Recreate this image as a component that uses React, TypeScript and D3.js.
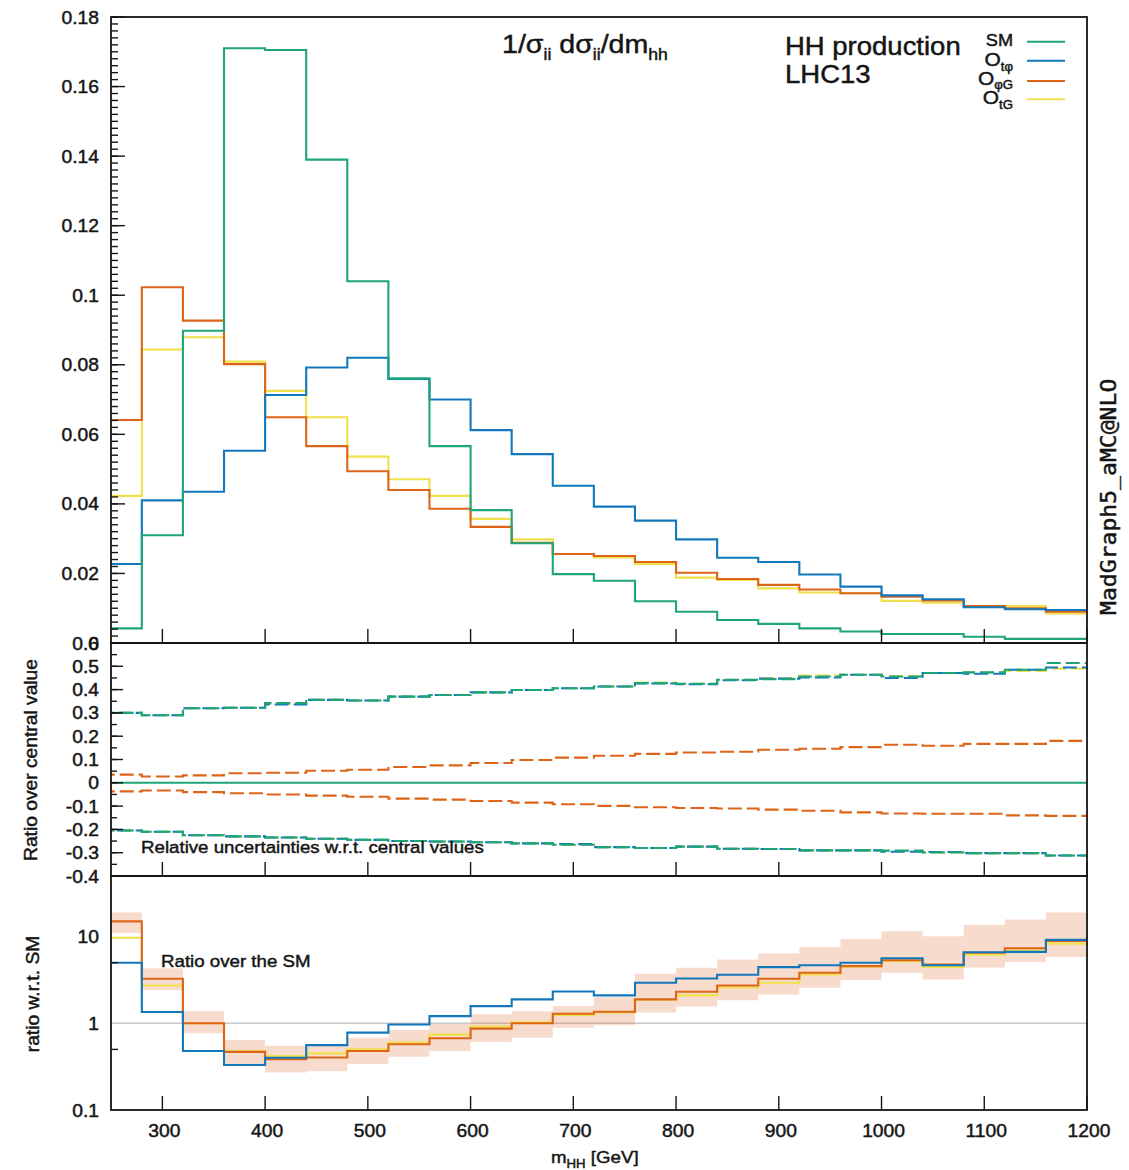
import React from "react";
import * as d3 from "d3";

// ---------------- DATA ----------------
const binEdges = [240, 280, 320, 360, 400, 440, 480, 520, 560, 600, 640, 680, 720, 760, 800, 840, 880, 920, 960, 1000, 1040, 1080, 1120, 1160, 1200];

// normalised distributions 1/sigma dsigma/dm_hh
const smDist = [0.0042, 0.031, 0.0898, 0.171, 0.1705, 0.139, 0.104, 0.0761, 0.0566, 0.0382, 0.0287, 0.0198, 0.0179, 0.012, 0.009, 0.0066, 0.0055, 0.0042, 0.0033, 0.0026, 0.0026, 0.0018, 0.0012, 0.0012];
const otphiDist = [0.0227, 0.041, 0.0435, 0.0553, 0.0713, 0.0792, 0.082, 0.0759, 0.07, 0.0612, 0.0543, 0.0452, 0.0392, 0.0352, 0.0298, 0.0245, 0.0233, 0.0197, 0.0162, 0.0137, 0.0126, 0.0103, 0.0097, 0.0095];
const ophiGDist = [0.0641, 0.1023, 0.0927, 0.0802, 0.0649, 0.0566, 0.0494, 0.044, 0.0386, 0.0334, 0.0288, 0.0256, 0.025, 0.0233, 0.0202, 0.0184, 0.0167, 0.0154, 0.0143, 0.0133, 0.0122, 0.0106, 0.01, 0.009];
const otGDist = [0.0423, 0.0844, 0.0879, 0.0809, 0.0725, 0.0649, 0.0536, 0.0471, 0.0423, 0.0357, 0.0298, 0.0256, 0.0246, 0.0227, 0.0188, 0.0181, 0.0157, 0.0145, 0.0143, 0.0121, 0.0116, 0.0106, 0.0106, 0.0085];

// relative uncertainties
const smUncUp = [0.3, 0.29, 0.32, 0.322, 0.342, 0.356, 0.353, 0.37, 0.377, 0.388, 0.398, 0.406, 0.413, 0.428, 0.425, 0.442, 0.445, 0.456, 0.464, 0.456, 0.471, 0.474, 0.485, 0.514];
const smUncDown = [-0.205, -0.21, -0.225, -0.23, -0.235, -0.24, -0.245, -0.25, -0.252, -0.255, -0.26, -0.266, -0.276, -0.28, -0.274, -0.283, -0.284, -0.29, -0.29, -0.291, -0.299, -0.302, -0.302, -0.312];
const otphiUncUp = [0.3, 0.29, 0.32, 0.322, 0.336, 0.356, 0.353, 0.37, 0.377, 0.388, 0.398, 0.406, 0.413, 0.426, 0.423, 0.44, 0.447, 0.452, 0.464, 0.45, 0.471, 0.468, 0.485, 0.495];
const otphiUncDown = [-0.205, -0.21, -0.225, -0.23, -0.235, -0.24, -0.245, -0.25, -0.252, -0.255, -0.26, -0.263, -0.276, -0.28, -0.274, -0.283, -0.284, -0.29, -0.29, -0.296, -0.297, -0.302, -0.302, -0.312];
const otGUncUp = [0.3, 0.29, 0.32, 0.322, 0.34, 0.356, 0.353, 0.37, 0.377, 0.388, 0.398, 0.406, 0.413, 0.43, 0.425, 0.442, 0.448, 0.46, 0.464, 0.458, 0.471, 0.474, 0.48, 0.49];
const otGUncDown = [-0.205, -0.21, -0.225, -0.23, -0.235, -0.24, -0.245, -0.25, -0.252, -0.255, -0.26, -0.266, -0.276, -0.28, -0.274, -0.283, -0.284, -0.29, -0.29, -0.293, -0.299, -0.302, -0.302, -0.312];
const ophiGUncUp = [0.035, 0.027, 0.032, 0.041, 0.043, 0.052, 0.056, 0.068, 0.075, 0.085, 0.098, 0.108, 0.116, 0.124, 0.13, 0.133, 0.142, 0.146, 0.153, 0.163, 0.159, 0.167, 0.167, 0.18];
const ophiGUncDown = [-0.037, -0.033, -0.04, -0.045, -0.05, -0.055, -0.06, -0.068, -0.072, -0.078, -0.085, -0.092, -0.099, -0.105, -0.108, -0.11, -0.115, -0.12, -0.127, -0.132, -0.133, -0.133, -0.14, -0.142];

// ratios over SM
const otphiRatio = [4.99, 1.35, 0.48, 0.33, 0.4, 0.56, 0.78, 0.97, 1.21, 1.58, 1.89, 2.33, 2.1, 2.94, 3.29, 3.63, 4.44, 4.68, 4.99, 5.63, 4.68, 6.6, 6.67, 9.16];
const ophiGRatio = [15.0, 3.26, 1.0, 0.468, 0.386, 0.403, 0.48, 0.574, 0.673, 0.869, 1.0, 1.29, 1.36, 1.89, 2.31, 2.73, 3.26, 3.83, 4.56, 5.34, 4.77, 6.5, 7.34, 8.93];
const otGRatio = [9.7, 2.73, 1.0, 0.48, 0.42, 0.45, 0.5, 0.6, 0.74, 0.92, 1.03, 1.25, 1.33, 1.87, 2.1, 2.59, 2.94, 3.66, 4.5, 5.2, 4.48, 6.2, 6.9, 8.3];
const ophiGRatioLow = [11.0, 2.41, 0.77, 0.32, 0.27, 0.28, 0.34, 0.41, 0.48, 0.61, 0.68, 0.89, 0.95, 1.33, 1.56, 1.85, 2.15, 2.57, 3.15, 3.83, 3.2, 4.4, 5.1, 5.8];
const ophiGRatioHigh = [19.0, 4.32, 1.38, 0.64, 0.55, 0.55, 0.68, 0.84, 0.98, 1.27, 1.38, 1.58, 2.0, 3.73, 4.37, 5.44, 6.38, 7.6, 9.4, 11.5, 10.1, 13.7, 15.7, 19.0];

const xTicks = [300, 400, 500, 600, 700, 800, 900, 1000, 1100, 1200];
const topYTicks = [0, 0.02, 0.04, 0.06, 0.08, 0.1, 0.12, 0.14, 0.16, 0.18];
const topYTickLabels = ["0", "0.02", "0.04", "0.06", "0.08", "0.1", "0.12", "0.14", "0.16", "0.18"];
const midYTicks = [-0.4, -0.3, -0.2, -0.1, 0, 0.1, 0.2, 0.3, 0.4, 0.5, 0.6];
const midYTickLabels = ["-0.4", "-0.3", "-0.2", "-0.1", "0", "0.1", "0.2", "0.3", "0.4", "0.5", "0.6"];
const botYTicks = [0.1, 1, 10];
const botYTickLabels = ["0.1", "1", "10"];
const botMinorTicks = [0.5, 5];

// ---------------- STYLE ----------------
const GREEN = "#1ea57a";
const BLUE = "#1378bb";
const ORANGE = "#dc651a";
const YELLOW = "#f1e04c";
const BAND = "rgba(225,120,60,0.26)";
const INK = "#151515";
const FONT = "'Liberation Sans', Arial, Helvetica, sans-serif";
const SX = 1.1;
const TSTROKE = 0.45;

const X0 = 111, X1 = 1087;
const T0 = 17, T1 = 643, M1 = 876, B1 = 1110;

const x = d3.scaleLinear().domain([250, 1200]).range([X0, X1]);
const yTop = d3.scaleLinear().domain([0, 0.18]).range([T1, T0]);
const yMid = d3.scaleLinear().domain([-0.4, 0.6]).range([M1, T1]);
const yBot = d3.scaleLog().domain([0.1, 50]).range([B1, M1]);

function stepPts(values: number[]) {
  const pts: [number, number][] = values.map((v, i) => [binEdges[i], v]);
  pts.push([binEdges[values.length], values[values.length - 1]]);
  return pts;
}
function stepPath(values: number[], ys: any) {
  return d3.line<[number, number]>().x(d => x(d[0])).y(d => ys(d[1])).curve(d3.curveStepAfter)(stepPts(values)) || "";
}
function bandPath(lo: number[], hi: number[], ys: any) {
  const pts = lo.map((v, i) => ({ e: binEdges[i], lo: v, hi: hi[i] }));
  pts.push({ e: binEdges[lo.length], lo: lo[lo.length - 1], hi: hi[hi.length - 1] });
  return d3.area<any>().x(d => x(d.e)).y0(d => ys(d.lo)).y1(d => ys(d.hi)).curve(d3.curveStepAfter)(pts) || "";
}

function Txt(props: any) {
  const { x: px, y: py, anchor = "start", size = 17.5, rotate = 0, family = FONT, sx = SX, children, fill = INK } = props;
  return (
    <g transform={`translate(${px},${py}) rotate(${rotate}) scale(${sx},1)`}>
      <text textAnchor={anchor} fontSize={size} fontFamily={family} fill={fill} stroke={fill} strokeWidth={TSTROKE}>{children}</text>
    </g>
  );
}

export default function App() {
  const topMinor = d3.range(0, 0.1801, 0.002);
  const midMinor = d3.range(-0.4, 0.6001, 0.05);
  return (
    <svg width={1129} height={1170} viewBox="0 0 1129 1170" style={{ display: "block", position: "absolute", left: 0, top: 0, background: "#fff" }}>
      <defs>
        <clipPath id="cTop"><rect x={X0} y={T0} width={X1 - X0} height={T1 - T0} /></clipPath>
        <clipPath id="cMid"><rect x={X0} y={T1} width={X1 - X0} height={M1 - T1} /></clipPath>
        <clipPath id="cBot"><rect x={X0} y={M1} width={X1 - X0} height={B1 - M1} /></clipPath>
      </defs>
      <rect x={0} y={0} width={1129} height={1170} fill="#fff" />

      {/* ---------- TOP PANEL ---------- */}
      <g clipPath="url(#cTop)" fill="none" strokeWidth={2.1}>
        <path d={stepPath(otGDist, yTop)} stroke={YELLOW} />
        <path d={stepPath(ophiGDist, yTop)} stroke={ORANGE} />
        <path d={stepPath(otphiDist, yTop)} stroke={BLUE} />
        <path d={stepPath(smDist, yTop)} stroke={GREEN} />
      </g>
      {topMinor.map((t, i) => (
        <line key={"tm" + i} x1={X0} x2={X0 + 7} y1={yTop(t)} y2={yTop(t)} stroke={INK} strokeWidth={1.4} />
      ))}
      {topYTicks.map((t, i) => (
        <g key={"tt" + i}>
          <line x1={X0} x2={X0 + 14} y1={yTop(t)} y2={yTop(t)} stroke={INK} strokeWidth={1.4} />
          <Txt x={99} y={yTop(t) + 6.5} anchor="end">{topYTickLabels[i]}</Txt>
        </g>
      ))}
      {xTicks.map((t, i) => (
        <line key={"tx" + i} x1={x(t)} x2={x(t)} y1={T1} y2={T1 - 14} stroke={INK} strokeWidth={1.4} />
      ))}
      <rect x={X0} y={T0} width={X1 - X0} height={T1 - T0} fill="none" stroke={INK} strokeWidth={1.8} />

      <g transform={`translate(502,53) scale(${SX},1)`}>
        <text fontSize={26} fontFamily={FONT} fill={INK} stroke={INK} strokeWidth={TSTROKE}>
          1/σ<tspan fontSize={16} dy={7}>ii</tspan>
          <tspan dy={-7}> dσ</tspan><tspan fontSize={16} dy={7}>ii</tspan>
          <tspan dy={-7}>/dm</tspan><tspan fontSize={16} dy={7}>hh</tspan>
        </text>
      </g>
      <Txt x={785} y={55} size={25}>HH production</Txt>
      <Txt x={785} y={83} size={25}>LHC13</Txt>

      {/* legend */}
      <Txt x={1013} y={46} size={16.5} anchor="end">SM</Txt>
      <g transform={`translate(1013,66) scale(${SX},1)`}>
        <text textAnchor="end" fontSize={19} fontFamily={FONT} fill={INK} stroke={INK} strokeWidth={TSTROKE}>O<tspan fontSize={12} dy={5}>tφ</tspan></text>
      </g>
      <g transform={`translate(1013,85) scale(${SX},1)`}>
        <text textAnchor="end" fontSize={19} fontFamily={FONT} fill={INK} stroke={INK} strokeWidth={TSTROKE}>O<tspan fontSize={12} dy={4}>φG</tspan></text>
      </g>
      <g transform={`translate(1013,104) scale(${SX},1)`}>
        <text textAnchor="end" fontSize={19} fontFamily={FONT} fill={INK} stroke={INK} strokeWidth={TSTROKE}>O<tspan fontSize={12} dy={5}>tG</tspan></text>
      </g>
      {[GREEN, BLUE, ORANGE, YELLOW].map((c, i) => (
        <line key={"lg" + i} x1={1027} x2={1065} y1={[41.7, 60.7, 81, 99.3][i]} y2={[41.7, 60.7, 81, 99.3][i]} stroke={c} strokeWidth={2.1} />
      ))}

      <Txt x={1116} y={615} rotate={-90} size={21} family="'DejaVu Sans Mono', 'Liberation Mono', monospace">MadGraph5_aMC@NLO</Txt>

      {/* ---------- MIDDLE PANEL ---------- */}
      <g clipPath="url(#cMid)" fill="none" strokeWidth={2.1}>
        <line x1={X0} x2={X1} y1={yMid(0)} y2={yMid(0)} stroke={GREEN} />
        <path d={stepPath(ophiGUncUp, yMid)} stroke={ORANGE} strokeDasharray="14 5" />
        <path d={stepPath(ophiGUncDown, yMid)} stroke={ORANGE} strokeDasharray="14 5" />
        <path d={stepPath(otGUncUp, yMid)} stroke={YELLOW} strokeDasharray="14 5" />
        <path d={stepPath(otGUncDown, yMid)} stroke={YELLOW} strokeDasharray="14 5" />
        <path d={stepPath(otphiUncUp, yMid)} stroke={BLUE} strokeDasharray="14 5" strokeDashoffset={3} />
        <path d={stepPath(otphiUncDown, yMid)} stroke={BLUE} strokeDasharray="14 5" strokeDashoffset={3} />
        <path d={stepPath(smUncUp, yMid)} stroke={GREEN} strokeDasharray="14 5" />
        <path d={stepPath(smUncDown, yMid)} stroke={GREEN} strokeDasharray="14 5" />
      </g>
      {midMinor.map((t, i) => (
        <line key={"mm" + i} x1={X0} x2={X0 + 6} y1={yMid(t)} y2={yMid(t)} stroke={INK} strokeWidth={1.4} />
      ))}
      {midYTicks.map((t, i) => (
        <g key={"mt" + i}>
          <line x1={X0} x2={X0 + 12} y1={yMid(t)} y2={yMid(t)} stroke={INK} strokeWidth={1.4} />
          <Txt x={99} y={yMid(t) + 6.5} anchor="end">{midYTickLabels[i]}</Txt>
        </g>
      ))}
      {xTicks.map((t, i) => (
        <line key={"mx" + i} x1={x(t)} x2={x(t)} y1={M1} y2={M1 - 14} stroke={INK} strokeWidth={1.4} />
      ))}
      <rect x={X0} y={T1} width={X1 - X0} height={M1 - T1} fill="none" stroke={INK} strokeWidth={1.8} />
      <Txt x={141} y={853} size={17}>Relative uncertainties w.r.t. central values</Txt>
      <Txt x={37} y={760} rotate={-90} anchor="middle" size={17.5}>Ratio over central value</Txt>

      {/* ---------- BOTTOM PANEL ---------- */}
      <g clipPath="url(#cBot)" fill="none" strokeWidth={2.1}>
        <line x1={X0} x2={X1} y1={yBot(1)} y2={yBot(1)} stroke="#c9c9c9" strokeWidth={1.6} />
        <path d={bandPath(ophiGRatioLow, ophiGRatioHigh, yBot)} fill={BAND} stroke="none" />
        <path d={stepPath(otGRatio, yBot)} stroke={YELLOW} />
        <path d={stepPath(ophiGRatio, yBot)} stroke={ORANGE} />
        <path d={stepPath(otphiRatio, yBot)} stroke={BLUE} />
      </g>
      {botMinorTicks.map((t, i) => (
        <line key={"bm" + i} x1={X0} x2={X0 + 7} y1={yBot(t)} y2={yBot(t)} stroke={INK} strokeWidth={1.4} />
      ))}
      {botYTicks.map((t, i) => (
        <Txt key={"bt" + i} x={99} y={yBot(t) + 6.5} anchor="end">{botYTickLabels[i]}</Txt>
      ))}
      {xTicks.map((t, i) => (
        <g key={"bx" + i}>
          <line x1={x(t)} x2={x(t)} y1={B1} y2={B1 - 14} stroke={INK} strokeWidth={1.4} />
          <Txt x={x(t) + 2} y={1137} anchor="middle">{String(t)}</Txt>
        </g>
      ))}
      <rect x={X0} y={M1} width={X1 - X0} height={B1 - M1} fill="none" stroke={INK} strokeWidth={1.8} />
      <Txt x={161} y={967} size={17}>Ratio over the SM</Txt>
      <Txt x={39} y={994} rotate={-90} anchor="middle" size={17.5}>ratio w.r.t. SM</Txt>
      <g transform={`translate(551,1163) scale(${SX},1)`}>
        <text fontSize={17} fontFamily={FONT} fill={INK} stroke={INK} strokeWidth={TSTROKE}>m<tspan fontSize={12} dy={5}>HH</tspan><tspan dy={-5}> [GeV]</tspan></text>
      </g>
    </svg>
  );
}
